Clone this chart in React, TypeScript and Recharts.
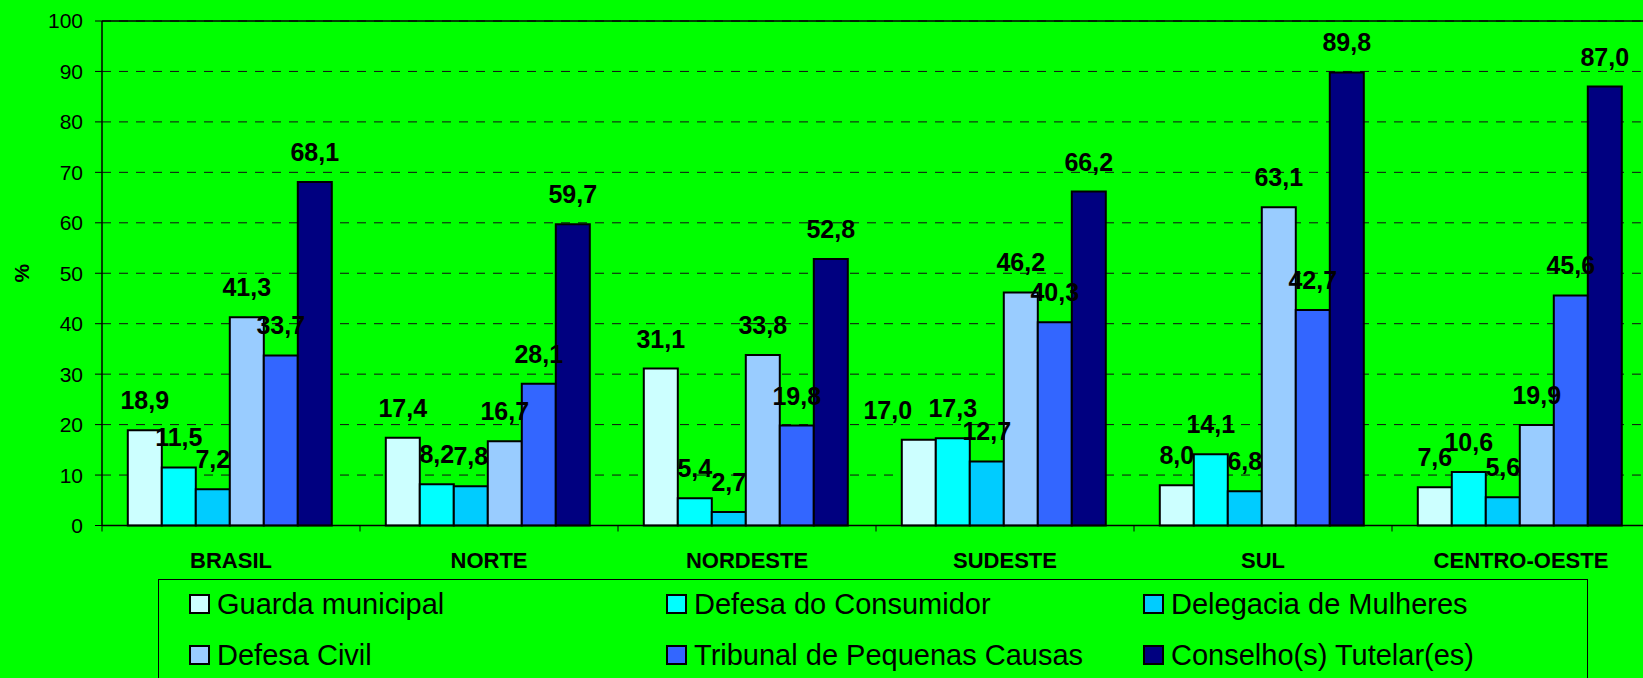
import { BarChart, Bar, XAxis, YAxis, CartesianGrid, Legend, LabelList, ReferenceLine } from 'recharts';

// Regions (categories)
const categories = ['BRASIL', 'NORTE', 'NORDESTE', 'SUDESTE', 'SUL', 'CENTRO-OESTE'];

// Series values, in region order
const guardaMunicipal = [18.9, 17.4, 31.1, 17.0, 8.0, 7.6];
const defesaConsumidor = [11.5, 8.2, 5.4, 17.3, 14.1, 10.6];
const delegaciaMulheres = [7.2, 7.8, 2.7, 12.7, 6.8, 5.6];
const defesaCivil = [41.3, 16.7, 33.8, 46.2, 63.1, 19.9];
const tribunalPequenasCausas = [33.7, 28.1, 19.8, 40.3, 42.7, 45.6];
const conselhoTutelar = [68.1, 59.7, 52.8, 66.2, 89.8, 87.0];

const yTicks = [0, 10, 20, 30, 40, 50, 60, 70, 80, 90, 100];

const SERIES = [
    { key: 'guarda', name: 'Guarda municipal', color: '#CCFFFF', values: guardaMunicipal },
    { key: 'consumidor', name: 'Defesa do Consumidor', color: '#00FFFF', values: defesaConsumidor },
    { key: 'delegacia', name: 'Delegacia de Mulheres', color: '#00CCFF', values: delegaciaMulheres },
    { key: 'civil', name: 'Defesa Civil', color: '#99CCFF', values: defesaCivil },
    { key: 'tribunal', name: 'Tribunal de Pequenas Causas', color: '#3366FF', values: tribunalPequenasCausas },
    { key: 'conselho', name: 'Conselho(s) Tutelar(es)', color: '#000080', values: conselhoTutelar },
];

const data = categories.map((region, i) => {
    const row: Record<string, any> = { region };
    SERIES.forEach(s => { row[s.key] = s.values[i]; });
    return row;
});

const FONT = "'Liberation Sans', Arial, sans-serif";
const CHART_W = 1700;
const CHART_H = 678;
const MARGIN = { top: 21, right: 50, left: 42, bottom: 122.5 };
const Y_AXIS_W = 60;
const BAND = (CHART_W - MARGIN.left - MARGIN.right - Y_AXIS_W) / categories.length;
const TICK_SIZE = 6;
const TICK_MARGIN = 21;

// one label was dragged aside by hand in the original chart
const LABEL_NUDGE: Record<string, number> = { 'guarda-3': -31 };

const fmt = (v: number) => v.toFixed(1).replace('.', ',');

const makeLabel = (seriesKey: string) => (props: any) => {
    const { x, y, width, value, index } = props;
    const dx = LABEL_NUDGE[`${seriesKey}-${index}`] || 0;
    return (
        <text
            x={Number(x) + Number(width) / 2 + dx}
            y={Number(y) - 21}
            textAnchor="middle"
            fontFamily={FONT}
            fontSize={25}
            fontWeight="bold"
            fill="#000"
        >
            {fmt(Number(value))}
        </text>
    );
};

// category label at the centre, tick mark between categories (Excel style)
const RegionTick = (props: any) => {
    const { x, y, payload } = props;
    const axisY = y - TICK_SIZE - TICK_MARGIN;
    return (
        <g>
            <line x1={x - BAND / 2} x2={x - BAND / 2} y1={axisY} y2={axisY + 6} stroke="#000" strokeWidth={1} />
            <text x={x} y={y} dy="0.71em" textAnchor="middle" fontFamily={FONT} fontSize={22} fontWeight="bold" fill="#000">
                {payload.value}
            </text>
        </g>
    );
};

const LegendBox = () => (
    <div
        style={{
            position: 'relative',
            width: 1430,
            height: 120,
            border: '1px solid #000',
            boxSizing: 'border-box',
            fontFamily: FONT,
        }}
    >
        {SERIES.map((s, i) => {
            const col = i % 3;
            const row = Math.floor(i / 3);
            return (
                <div
                    key={s.key}
                    style={{
                        position: 'absolute',
                        left: 30 + col * 477,
                        top: 8 + row * 51,
                        height: 32,
                        display: 'flex',
                        alignItems: 'center',
                        whiteSpace: 'nowrap',
                    }}
                >
                    <span
                        style={{
                            display: 'inline-block',
                            width: 21,
                            height: 20,
                            boxSizing: 'border-box',
                            border: '2.5px solid #000',
                            background: s.color,
                            marginRight: 7,
                        }}
                    />
                    <span style={{ fontSize: 29, color: '#000', lineHeight: '32px' }}>{s.name}</span>
                </div>
            );
        })}
    </div>
);

export default function App() {
    return (
        <div
            style={{
                position: 'fixed',
                left: 0,
                top: 0,
                width: 1643,
                height: 678,
                overflow: 'hidden',
                background: '#00FF00',
            }}
        >
            <BarChart
                width={CHART_W}
                height={CHART_H}
                data={data}
                margin={MARGIN}
                barGap={0}
                barCategoryGap="10%"
            >
                <CartesianGrid vertical={false} stroke="#111" strokeDasharray="9 8" />
                <XAxis
                    dataKey="region"
                    height={30}
                    axisLine={{ stroke: '#000', strokeWidth: 1.5 }}
                    tickLine={false}
                    tickSize={TICK_SIZE}
                    tickMargin={TICK_MARGIN}
                    tick={<RegionTick />}
                    interval={0}
                />
                <YAxis
                    width={Y_AXIS_W}
                    domain={[0, 100]}
                    ticks={yTicks}
                    interval={0}
                    axisLine={{ stroke: '#000', strokeWidth: 1.5 }}
                    tickLine={{ stroke: '#000' }}
                    tickSize={7}
                    tickMargin={12}
                    tick={{ fontFamily: FONT, fontSize: 21, fill: '#000' }}
                    label={{
                        content: (p: any) => {
                            const vb = p.viewBox || {};
                            const cy = (vb.y ?? 21) + (vb.height ?? 504) / 2;
                            return (
                                <text
                                    x={21}
                                    y={cy}
                                    transform={`rotate(-90, 21, ${cy})`}
                                    textAnchor="middle"
                                    dominantBaseline="central"
                                    fontFamily={FONT}
                                    fontSize={21}
                                    fontWeight="bold"
                                    fill="#000"
                                >
                                    %
                                </text>
                            );
                        },
                    }}
                />
                <ReferenceLine y={100} stroke="#000" strokeWidth={1.5} />
                {SERIES.map(s => (
                    <Bar
                        key={s.key}
                        dataKey={s.key}
                        name={s.name}
                        fill={s.color}
                        stroke="#000"
                        strokeWidth={2}
                        isAnimationActive={false}
                    >
                        <LabelList dataKey={s.key} content={makeLabel(s.key)} />
                    </Bar>
                ))}
                <Legend
                    layout="horizontal"
                    align="center"
                    verticalAlign="middle"
                    content={<LegendBox />}
                    wrapperStyle={{ left: 158, top: 579, width: 1430, height: 120, margin: 0 }}
                />
            </BarChart>
        </div>
    );
}
